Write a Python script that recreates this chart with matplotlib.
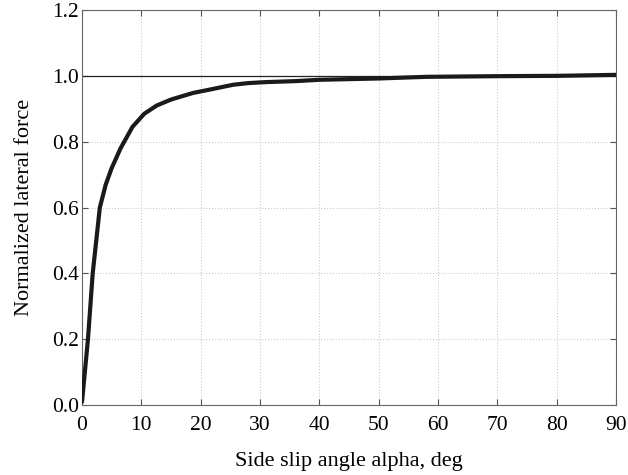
import matplotlib
matplotlib.use("Agg")
import matplotlib.pyplot as plt

# side slip angle (deg) and normalized lateral force
alpha = [0, 1, 1.8, 3, 4, 5, 6.5, 8.5, 10.5, 12.6, 15, 18.7, 22, 25.5, 28, 31,
         36, 40, 45, 50, 58, 70, 80, 90]
force = [0.01, 0.2, 0.40, 0.60, 0.67, 0.72, 0.78, 0.845, 0.885, 0.91, 0.928,
         0.948, 0.96, 0.973, 0.978, 0.981, 0.984, 0.988, 0.99, 0.992, 0.997,
         0.999, 1.0, 1.003]

x_ticks = list(range(0, 91, 10))
y_ticks = [0.0, 0.2, 0.4, 0.6, 0.8, 1.0, 1.2]

plt.rcParams['font.family'] = ['Liberation Serif', 'DejaVu Serif']

fig = plt.figure(figsize=(6.28, 4.75), dpi=100)
ax = fig.add_axes([0.1306, 0.147, 0.8504, 0.832])

ax.axhline(1.0, color='#222222', lw=0.9, zorder=2)
ax.plot(alpha, force, color='#1a1a1a', lw=3.0, solid_capstyle='round', zorder=3)

ax.set_xlim(0, 90)
ax.set_ylim(0, 1.2)
ax.set_xticks(x_ticks)
ax.set_yticks(y_ticks)
ax.set_yticklabels([f'{v:.1f}' for v in y_ticks])
ax.grid(True, linestyle=':', color='#cccccc', lw=0.8)
ax.tick_params(direction='in', top=True, right=True, labelsize=15.5,
               color='#555555', length=4)
ax.tick_params(axis='x', pad=8)
ax.tick_params(axis='y', pad=2)
for s in ax.spines.values():
    s.set_color('#666666')

ax.set_xlabel('Side slip angle alpha, deg', fontsize=16, labelpad=12)
ax.set_ylabel('Normalized lateral force', fontsize=16, labelpad=13)

fig.savefig('out.png', dpi=100)
